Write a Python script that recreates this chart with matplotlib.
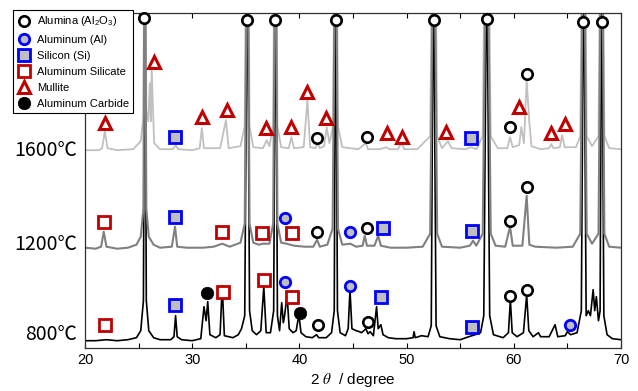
import matplotlib
matplotlib.use("Agg")
import matplotlib.pyplot as plt
from matplotlib.lines import Line2D
from matplotlib.ticker import MultipleLocator
import matplotlib.transforms as mtransforms

plt.rcParams['font.family'] = ['Liberation Sans', 'DejaVu Sans']
plt.rcParams['mathtext.fontset'] = 'stix'

# ---------------- data (2theta in degree, intensity in arbitrary units) ----------------
labels_temp = ["800℃", "1200℃", "1600℃"]

t800_x = [20.0, 21.0, 22.0, 23.0, 24.0, 24.8, 25.2, 25.45, 25.58, 25.72, 25.95, 26.4, 27.0, 28.0,
          28.3, 28.45, 28.6, 29.0, 30.0, 30.8, 31.1, 31.3, 31.45, 31.65, 32.2, 32.6, 32.8, 33.0,
          33.8, 34.3, 34.6, 34.9, 35.15, 35.35, 35.6, 36.0, 36.4, 36.68, 36.9, 37.3, 37.6, 37.78,
          37.95, 38.15, 38.35, 38.5, 38.62, 38.85, 39.05, 39.4, 39.7, 39.95, 40.15, 40.6, 41.2,
          41.6, 41.8, 42.5, 43.0, 43.25, 43.38, 43.55, 43.8, 44.3, 44.55, 44.72, 44.9, 45.3, 45.6,
          45.8, 46.2, 46.4, 46.6, 46.9, 47.2, 47.35, 47.6, 47.8, 48.3, 49.0, 50.0, 50.6, 50.7,
          50.8, 51.4, 52.0, 52.3, 52.5, 52.75, 53.1, 54.0, 55.0, 55.8, 56.1, 56.4, 56.9, 57.2,
          57.48, 57.75, 58.1, 59.0, 59.5, 59.68, 59.85, 60.3, 60.9, 61.2, 61.4, 61.8, 62.3, 62.5,
          63.3, 63.85, 64.1, 64.8, 65.0, 65.3, 65.9, 66.3, 66.52, 66.75, 66.95, 67.15, 67.4,
          67.55, 67.7, 67.9, 68.05, 68.2, 68.4, 68.7, 69.2, 70.0]
t800_y = [0, 0, 1, 0, 1, 3, 10, 40, 400, 40, 10, 3, 1, 1,
          4, 25, 4, 1, 0, 2, 34, 20, 39, 6, 3, 6, 55, 5,
          3, 6, 12, 25, 400, 30, 10, 6, 10, 54, 8, 8, 30, 400,
          25, 10, 38, 18, 25, 46, 12, 8, 10, 26, 8, 4, 3,
          6, 3, 3, 8, 30, 400, 30, 8, 5, 12, 51, 12, 10, 9,
          8, 12, 7, 9, 5, 34, 12, 16, 6, 3, 2, 2, 3, 9,
          3, 5, 4, 15, 400, 15, 4, 2, 1, 4, 5, 6, 8, 25,
          400, 25, 6, 3, 8, 41, 8, 4, 8, 46, 10, 4, 8, 4,
          4, 16, 4, 5, 9, 6, 8, 30, 400, 25, 30, 25, 51,
          30, 44, 20, 30, 400, 25, 6, 2, 1]

t1200_x = [20.0, 21.0, 21.5, 21.75, 22.0, 23.0, 24.0, 24.8, 25.2, 25.45, 25.58, 25.72, 25.95, 26.4,
           27.0, 28.1, 28.4, 28.6, 29.5, 31.0, 32.0, 32.8, 33.5, 34.5, 34.9, 35.15, 35.35, 35.7,
           36.2, 36.6, 37.2, 37.55, 37.78, 37.95, 38.3, 38.8, 39.5, 40.5, 41.3, 41.65, 41.9, 42.6,
           43.1, 43.38, 43.6, 44.0, 44.75, 45.3, 45.9, 46.1, 46.3, 47.0, 47.35, 47.6, 48.5, 50.0,
           51.5, 52.2, 52.55, 52.85, 53.3, 55.0, 55.9, 56.2, 56.5, 57.1, 57.48, 57.85, 58.3, 59.2,
           59.65, 59.9, 60.8, 61.2, 61.45, 62.0, 64.0, 65.5, 66.2, 66.52, 66.8, 67.3, 67.9, 68.2,
           68.45, 68.9, 70.0]
t1200_y = [1, 0, 2, 17, 2, 0, 1, 4, 12, 40, 400, 40, 12, 4,
           1, 2, 22, 2, 1, 1, 2, 5, 2, 6, 25, 400, 25, 6,
           4, 5, 5, 25, 400, 25, 6, 5, 3, 2, 2, 9, 2, 4,
           20, 400, 20, 4, 5, 2, 3, 13, 3, 3, 13, 3, 1, 1,
           2, 15, 400, 15, 2, 1, 3, 8, 3, 15, 400, 15, 3, 2,
           22, 3, 3, 53, 4, 2, 1, 2, 15, 400, 15, 5, 15, 400,
           15, 2, 1]

t1600_x = [20.0, 21.3, 21.6, 21.85, 22.1, 23.0, 24.5, 25.2, 25.45, 25.58, 25.72, 25.9, 26.05, 26.15,
           26.22, 26.45, 27.0, 28.2, 28.45, 28.7, 30.0, 30.7, 30.9, 31.1, 32.6, 33.15, 33.4, 34.5,
           34.9, 35.15, 35.35, 35.7, 36.6, 36.95, 37.2, 37.55, 37.78, 37.95, 38.3, 39.0, 39.25,
           39.5, 40.4, 40.75, 41.0, 41.5, 41.7, 41.9, 42.3, 42.55, 42.8, 43.15, 43.38, 43.6, 44.0,
           45.5, 46.2, 46.4, 47.5, 48.1, 48.4, 49.2, 49.5, 49.8, 51.0, 52.2, 52.55, 52.85, 53.3,
           53.85, 54.2, 55.5, 56.0, 56.5, 57.1, 57.48, 57.85, 58.5, 59.4, 59.65, 59.9, 60.5, 60.7,
           60.95, 61.2, 61.45, 61.65, 62.5, 63.3, 63.5, 63.7, 64.3, 64.5, 64.75, 65.8, 66.2, 66.52,
           66.8, 67.3, 67.9, 68.2, 68.45, 68.9, 70.0]
t1600_y = [1, 1, 3, 20, 3, 1, 2, 10, 35, 400, 40, 30, 68, 30,
           83, 8, 2, 2, 6, 2, 1, 3, 23, 3, 3, 31, 3, 5,
           25, 400, 25, 4, 3, 11, 5, 25, 400, 25, 4, 3, 14,
           3, 4, 51, 4, 3, 8, 3, 5, 24, 8, 25, 400, 25, 4,
           2, 8, 2, 2, 4, 2, 2, 8, 2, 2, 15, 400, 15, 3,
           10, 3, 2, 4, 2, 15, 400, 15, 3, 3, 14, 4, 6, 24,
           8, 71, 29, 5, 2, 3, 7, 3, 4, 16, 4, 4, 15, 400,
           15, 5, 15, 400, 15, 3, 2]

# phase marker positions (2theta, intensity)
alumina_x = [25.55, 35.15, 37.75, 43.4, 52.55, 57.5, 66.5, 68.2, 41.65, 46.3, 59.6, 61.2,
             41.6, 46.3, 59.6, 61.2, 41.7, 46.4, 59.6, 61.2]
alumina_y = [329.7, 327.7, 327.7, 327.7, 327.7, 328.7, 325.7, 325.7, 209.7, 210.7, 220.7, 273.7,
             115.7, 119.7, 127.0, 161.0, 22.7, 26.0, 51.7, 57.7]
aluminum_x = [38.7, 44.7, 38.65, 44.7, 65.2]
aluminum_y = [129.7, 115.7, 66.0, 61.7, 22.7]
silicon_x = [28.4, 56.0, 28.4, 47.8, 56.1, 28.4, 47.6, 56.1]
silicon_y = [210.7, 209.7, 130.7, 120.0, 116.7, 42.7, 51.0, 21.0]
alsilicate_x = [21.8, 32.75, 36.5, 39.3, 21.9, 32.85, 36.7, 39.35]
alsilicate_y = [126.0, 116.0, 114.7, 114.7, 22.7, 56.0, 67.7, 51.0]
mullite_x = [21.9, 26.4, 30.9, 33.2, 36.9, 39.2, 40.7, 42.45, 48.2, 49.6, 53.7, 60.5, 63.5, 64.8]
mullite_y = [224.7, 285.7, 230.7, 237.7, 219.7, 220.7, 255.7, 229.7, 214.7, 210.7, 215.7,
             240.7, 214.7, 223.7]
carbide_x = [31.4, 40.05]
carbide_y = [54.4, 34.4]

phase_names = ["Alumina (Al$_\\mathregular{2}$O$_\\mathregular{3}$)", "Aluminum (Al)", "Silicon (Si)",
               "Aluminum Silicate", "Mullite", "Aluminum Carbide"]

# ---------------- styling ----------------
offsets = [7, 99, 196.5]
label_y = [12.7, 102.7, 197.7]
trace_colors = ["#000000", "#808080", "#C0C0C0"]
RED = "#C00000"
BLUE = "#0000FF"
GRAY = "#BFBFBF"

phase_styles = [
    dict(marker='o', ms=7.5, mfc='white', mec='black', mew=1.9),
    dict(marker='o', ms=7.5, mfc=GRAY, mec=BLUE, mew=2.0),
    dict(marker='s', ms=8.3, mfc=GRAY, mec=BLUE, mew=2.0),
    dict(marker='s', ms=8.3, mfc='white', mec=RED, mew=2.0),
    dict(marker='^', ms=8.5, mfc='white', mec=RED, mew=2.2),
    dict(marker='o', ms=9.0, mfc='black', mec='black', mew=0.5),
]

fig = plt.figure(figsize=(6.38, 3.91), dpi=100)
ax = fig.add_axes([85 / 638, 1 - 347.7 / 391, 536 / 638, 334.4 / 391])

traces = [(t800_x, t800_y), (t1200_x, t1200_y), (t1600_x, t1600_y)]
draw_order = [0, 2, 1]
line_widths = [1.2, 1.5, 1.3]
for z, i in enumerate(draw_order):
    xs, ys = traces[i]
    ax.plot(xs, [v + offsets[i] for v in ys], color=trace_colors[i], lw=line_widths[i],
            zorder=2 + z * 0.1)

phase_data = [(alumina_x, alumina_y), (aluminum_x, aluminum_y), (silicon_x, silicon_y),
              (alsilicate_x, alsilicate_y), (mullite_x, mullite_y), (carbide_x, carbide_y)]
for (px, py), st in zip(phase_data, phase_styles):
    ax.plot(px, py, ls='none', zorder=5, clip_on=False, **st)

ax.set_xlim(20, 70)
ax.set_ylim(0, 334.4)
ax.set_yticks([])
ax.xaxis.set_major_locator(MultipleLocator(10))
ax.xaxis.set_minor_locator(MultipleLocator(5))
ax.tick_params(axis='x', which='both', direction='in', top=True, bottom=True,
               length=3.5, width=0.8, labelsize=10.5, pad=4)
for sp in ax.spines.values():
    sp.set_linewidth(0.9)
    sp.set_color('#303030')
ax.set_xlabel("2 $\\theta$  / degree", fontsize=11, labelpad=2.5)

trans = mtransforms.blended_transform_factory(ax.transAxes, ax.transData)
for i, lab in enumerate(labels_temp):
    ax.text(-0.014, label_y[i], lab, transform=trans, ha='right', va='center',
            fontsize=14, family=['Noto Sans CJK JP', 'DejaVu Sans'])

handles = [Line2D([], [], ls='none', **st) for st in phase_styles]
leg = fig.legend(handles, phase_names, loc='upper left', bbox_to_anchor=(13 / 638, 1 - 10 / 391),
                 fontsize=8, frameon=True, fancybox=False, framealpha=1, edgecolor='black',
                 borderpad=0.4, labelspacing=0.55, handlelength=1.2, handletextpad=0.55,
                 borderaxespad=0)
leg.get_frame().set_linewidth(0.8)

fig.savefig("out.png", dpi=100)
